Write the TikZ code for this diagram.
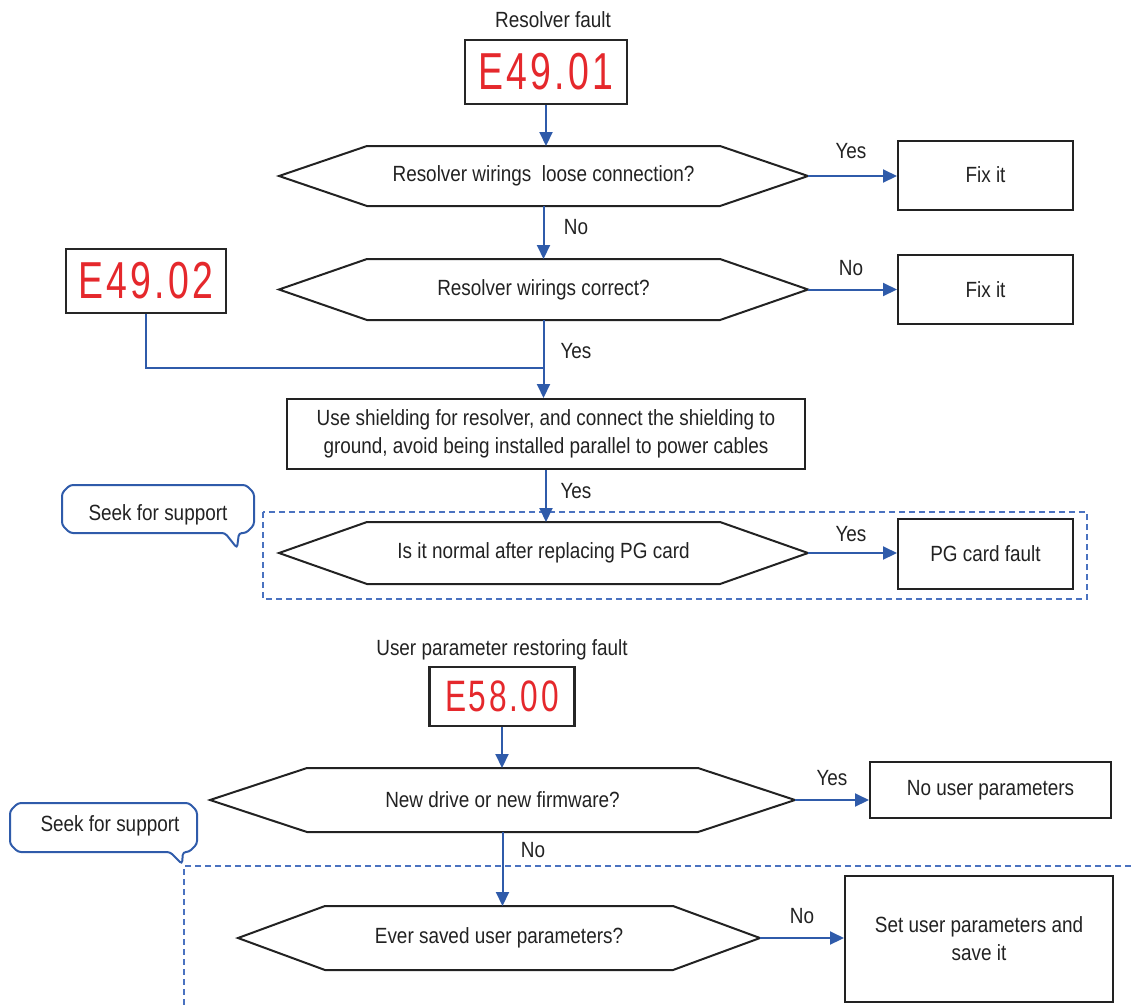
\documentclass[tikz,border=0pt]{standalone}
\usepackage{fontspec}
\setmainfont{Liberation Sans}[FakeStretch=0.86]
\newfontfamily\segfont{Liberation Sans}[FakeStretch=0.72, LetterSpace=6]
\usetikzlibrary{arrows.meta,calc}

\definecolor{flowblue}{HTML}{2F5BAA}
\definecolor{dashblue}{HTML}{4A72C0}
\definecolor{segred}{HTML}{E5282C}
\definecolor{inkgray}{HTML}{222222}

\tikzset{
  lbl/.style={font=\fontsize{22}{26}\selectfont, inner sep=0pt, text=inkgray},
  procbox/.style={draw=inkgray, line width=2pt, fill=white, inner sep=0pt,
    align=center, text=inkgray, font=\fontsize{22}{28}\selectfont},
  hexbase/.style={inner sep=0pt, outer sep=0pt, align=center, text=inkgray,
    font=\fontsize{22}{26}\selectfont},
  hexline/.style={draw=inkgray, line width=2pt, line join=miter},
  flow/.style={draw=flowblue, line width=2pt, -{Triangle[length=14pt,width=13pt]}},
  plainflow/.style={draw=flowblue, line width=2pt},
  display/.style={draw=black!85, line width=2.5pt, fill=white, inner sep=0pt,
    text=segred},
  callout/.style={draw=flowblue, line width=2pt, fill=white, rounded corners=3pt},
  zone/.style={draw=dashblue, line width=1.2pt, dash pattern=on 6pt off 4pt},
}

% hexagonal decision outline around a rectangular node
\newcommand\hexoutline[2]{%
  \draw[hexline] (#1.west) -- ($(#1.north west)+(#2,0)$) -- ($(#1.north east)-(#2,0)$)
    -- (#1.east) -- ($(#1.south east)-(#2,0)$) -- ($(#1.south west)+(#2,0)$) -- cycle;}

\begin{document}
\begin{tikzpicture}[x=1pt, y=-1pt]
\useasboundingbox (0,0) rectangle (1131,1007);

% ---------- resolver fault ----------
\node[lbl] (t1) at (553,20) {Resolver fault};
\node[display, minimum width=162pt, minimum height=64pt] (d1) at (546,72)
  {\segfont\fontsize{52}{52}\selectfont E49.01};

\node[hexbase, minimum width=529pt, minimum height=60pt] (h1) at (543.5,176)
  {Resolver wirings\ \ loose connection?};
\hexoutline{h1}{88}
\node[procbox, minimum width=175pt, minimum height=69pt] (f1) at (985.5,175) {Fix it};

\node[hexbase, minimum width=529pt, minimum height=61pt] (h2) at (543.5,289.5)
  {Resolver wirings correct?};
\hexoutline{h2}{88}
\node[procbox, minimum width=175pt, minimum height=69pt] (f2) at (985.5,289.5) {Fix it};

\node[display, minimum width=160pt, minimum height=64pt] (d2) at (146,281)
  {\segfont\fontsize{52}{52}\selectfont E49.02};

\node[procbox, minimum width=518pt, minimum height=70pt] (b1) at (546,434)
  {Use shielding for resolver, and connect the shielding to\\
   ground, avoid being installed parallel to power cables};

% support zone
\draw[zone] (263,512) rectangle (1087,599);
\draw[callout] (70,485) -- (246,485) -- (254,493) -- (254,525) -- (246,533)
  -- (239,533) -- (237,548) -- (225,533) -- (70,533) -- (62,525) -- (62,493) -- cycle;
\node[lbl] (s1) at (158,515) {Seek for support};

\node[hexbase, minimum width=529pt, minimum height=62pt] (h3) at (543.5,553)
  {Is it normal after replacing PG card};
\hexoutline{h3}{88}
\node[procbox, minimum width=175pt, minimum height=70pt] (pg) at (985.5,554) {PG card fault};

% connectors
\draw[flow] (d1.south) -- (d1.south |- h1.north);
\draw[flow] (h1.east) -- (f1.west |- h1.east);
\draw[flow] (h1.south) -- (h2.north);
\draw[flow] (h2.east) -- (f2.west |- h2.east);
\coordinate (j1) at (h2.south |- 0,368);
\draw[flow] (h2.south) -- (h2.south |- b1.north);
\draw[plainflow] (d2.south) |- (j1);
\draw[flow] (b1.south) -- (b1.south |- h3.north);
\draw[flow] (h3.east) -- (pg.west |- h3.east);

\node[lbl] (y1) at (851,151) {Yes};
\node[lbl] (n1) at (576,227) {No};
\node[lbl] (n2) at (851,268) {No};
\node[lbl] (y2) at (576,351) {Yes};
\node[lbl] (y3) at (576,491) {Yes};
\node[lbl] (y4) at (851,534) {Yes};

% ---------- user parameter restoring fault ----------
\node[lbl] (t2) at (502,650) {User parameter restoring fault};
\node[display, minimum width=145pt, minimum height=59pt] (d3) at (502,696.5)
  {\segfont\fontsize{44}{44}\selectfont E58.00};

\node[hexbase, minimum width=585pt, minimum height=64pt] (h4) at (502.5,800)
  {New drive or new firmware?};
\hexoutline{h4}{97}
\node[procbox, minimum width=241pt, minimum height=56pt] (nu) at (990.5,790) {No user parameters};

% support zone
\draw[zone] (1131,866) -- (184,866) -- (184,1007);
\draw[callout] (18,803) -- (189,803) -- (197,811) -- (197,844) -- (189,852)
  -- (183,852) -- (182,864) -- (170,852) -- (18,852) -- (10,844) -- (10,811) -- cycle;
\node[lbl] (s2) at (110,826) {Seek for support};

\node[hexbase, minimum width=522pt, minimum height=64pt] (h5) at (499,938)
  {Ever saved user parameters?};
\hexoutline{h5}{87}
\node[procbox, minimum width=268pt, minimum height=126pt] (su) at (979,939)
  {Set user parameters and\\ save it};

\draw[flow] (d3.south) -- (d3.south |- h4.north);
\draw[flow] (h4.east) -- (nu.west |- h4.east);
\draw[flow] (h4.south) -- (h4.south |- h5.north);
\draw[flow] (h5.east) -- (su.west |- h5.east);

\node[lbl] (y5) at (832,778) {Yes};
\node[lbl] (n3) at (533,850) {No};
\node[lbl] (n4) at (802,916) {No};
\end{tikzpicture}
\end{document}
